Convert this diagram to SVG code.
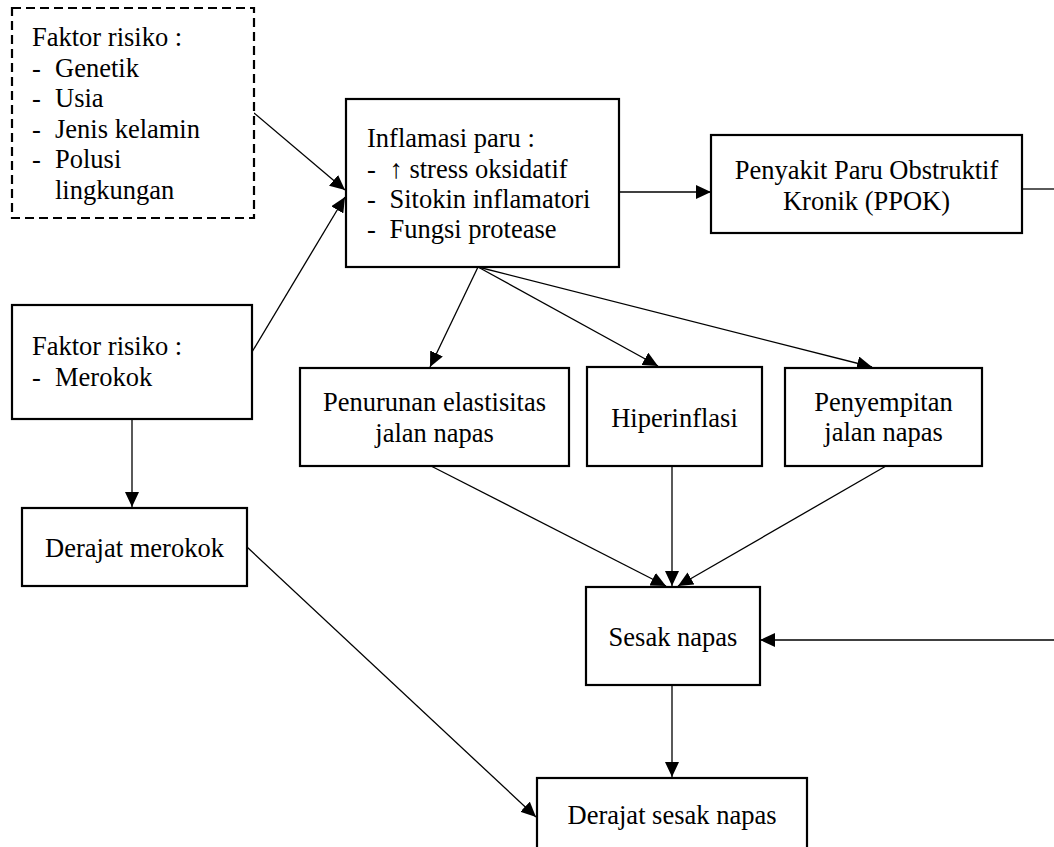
<svg xmlns="http://www.w3.org/2000/svg" width="1054" height="847" viewBox="0 0 1054 847">
  <style>
    .box { fill: #fff; stroke: #000; stroke-width: 2.2; }
    .dash { fill: #fff; stroke: #000; stroke-width: 2.2; stroke-dasharray: 9 5; }
    .c { text-anchor: middle; }
    .edge { stroke: #000; stroke-width: 1.3; fill: none; }
    .arr { marker-end: url(#ah); }
  </style>
  <defs>
    <marker id="ah" markerUnits="userSpaceOnUse" markerWidth="15" markerHeight="14" refX="15" refY="7" orient="auto">
      <path d="M0,0 L15,7 L0,14 z" fill="#000"/>
    </marker>
  </defs>
  <rect width="1054" height="847" fill="#fff"/>

  <!-- connectors -->
  <g id="connectors">
    <line class="edge arr" x1="254" y1="113" x2="345" y2="190"/>
    <line class="edge arr" x1="252" y1="352" x2="345" y2="197"/>
    <line class="edge arr" x1="619" y1="192" x2="711" y2="192"/>
    <line class="edge arr" x1="478" y1="267" x2="430" y2="367"/>
    <line class="edge arr" x1="478" y1="267" x2="658" y2="366"/>
    <line class="edge arr" x1="478" y1="267" x2="872" y2="367"/>
    <line class="edge arr" x1="431" y1="466" x2="666" y2="586"/>
    <line class="edge arr" x1="672" y1="466" x2="672" y2="586"/>
    <line class="edge arr" x1="886" y1="466" x2="678" y2="586"/>
    <line class="edge" x1="1022" y1="189" x2="1054" y2="189"/>
    <line class="edge arr" x1="1054" y1="640" x2="760" y2="640"/>
    <line class="edge arr" x1="672" y1="685" x2="672" y2="777"/>
    <line class="edge arr" x1="132" y1="419" x2="132" y2="507"/>
    <line class="edge arr" x1="247" y1="547" x2="536" y2="817"/>
  </g>

  <g font-family="Liberation Serif" font-size="26.5" fill="#000">
  <!-- risk factors (dashed) -->
  <g id="faktor-risiko">
    <rect class="dash" x="12" y="8" width="242" height="210"/>
    <text x="32" y="46">Faktor risiko :</text>
    <text x="32" y="76.5">-</text><text x="55" y="76.5">Genetik</text>
    <text x="32" y="107">-</text><text x="55" y="107">Usia</text>
    <text x="32" y="137.5">-</text><text x="55" y="137.5">Jenis kelamin</text>
    <text x="32" y="168">-</text><text x="55" y="168">Polusi</text>
    <text x="55" y="198.5">lingkungan</text>
  </g>

  <g id="faktor-merokok">
    <rect class="box" x="12" y="305" width="240" height="114"/>
    <text x="32" y="355">Faktor risiko :</text>
    <text x="32" y="386">-</text><text x="55" y="386">Merokok</text>
  </g>

  <g id="derajat-merokok">
    <rect class="box" x="22" y="508" width="225" height="78"/>
    <text class="c" x="134.5" y="557">Derajat merokok</text>
  </g>

  <g id="inflamasi">
    <rect class="box" x="346" y="99" width="273" height="168"/>
    <text x="367" y="147">Inflamasi paru :</text>
    <text x="367" y="177.5">-</text><text x="389.5" y="177.5">↑ stress oksidatif</text>
    <text x="367" y="208">-</text><text x="389.5" y="208">Sitokin inflamatori</text>
    <text x="367" y="238">-</text><text x="389.5" y="238">Fungsi protease</text>
  </g>

  <g id="ppok">
    <rect class="box" x="711" y="135" width="311" height="98"/>
    <text class="c" x="866.5" y="179">Penyakit Paru Obstruktif</text>
    <text class="c" x="866.5" y="210">Kronik (PPOK)</text>
  </g>

  <g id="penurunan">
    <rect class="box" x="300" y="368" width="269" height="98"/>
    <text class="c" x="434.5" y="411">Penurunan elastisitas</text>
    <text class="c" x="434.5" y="441.5">jalan napas</text>
  </g>

  <g id="hiperinflasi">
    <rect class="box" x="587" y="367" width="175" height="99"/>
    <text class="c" x="674.5" y="426.5">Hiperinflasi</text>
  </g>

  <g id="penyempitan">
    <rect class="box" x="785" y="368" width="197" height="98"/>
    <text class="c" x="883.5" y="411">Penyempitan</text>
    <text class="c" x="883.5" y="440.5">jalan napas</text>
  </g>

  <g id="sesak">
    <rect class="box" x="586" y="587" width="174" height="98"/>
    <text class="c" x="673" y="646">Sesak napas</text>
  </g>

  <g id="derajat-sesak">
    <rect class="box" x="537" y="778" width="270" height="90"/>
    <text class="c" x="672" y="824">Derajat sesak napas</text>
  </g>
  </g>
</svg>
